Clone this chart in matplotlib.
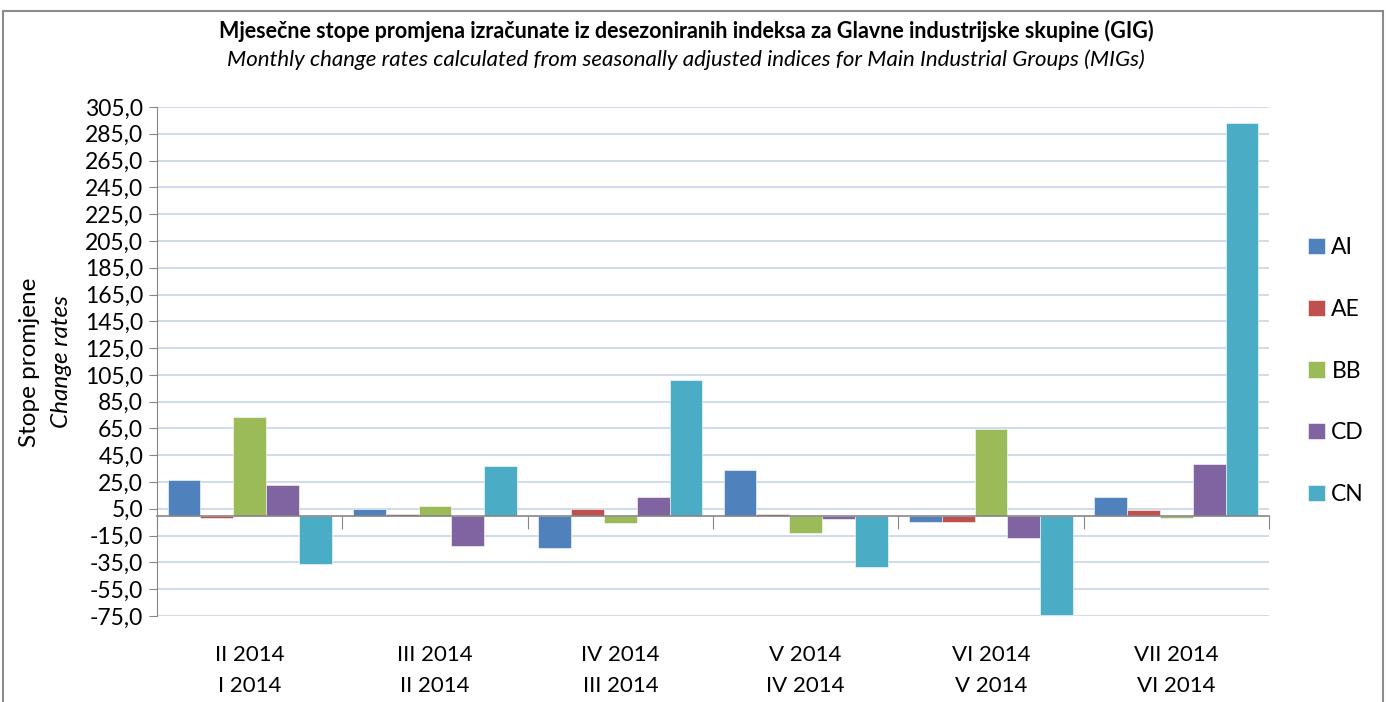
import matplotlib
matplotlib.use("Agg")
import matplotlib.pyplot as plt
import numpy as np
from matplotlib.patches import Rectangle

# data
periods = ["II 2014\nI 2014", "III 2014\nII 2014", "IV 2014\nIII 2014",
           "V 2014\nIV 2014", "VI 2014\nV 2014", "VII 2014\nVI 2014"]
series = ["AI", "AE", "BB", "CD", "CN"]
ai = [26.9, 5.0, -24.4, 33.9, -4.7, 14.0]
ae = [-1.7, 1.0, 5.0, 1.0, -4.7, 4.0]
bb = [73.4, 7.2, -5.5, -13.4, 64.7, -1.7]
cd = [22.7, -22.6, 14.0, -2.7, -16.6, 38.8]
cn = [-36.3, 36.8, 101.3, -38.3, -74.1, 293.0]
colors = ["#4f81bd", "#c0504d", "#9bbb59", "#8064a2", "#4bacc6"]
yticks = np.arange(-75, 306, 20)

plt.rcParams["font.family"] = ["Lato", "DejaVu Sans"]

fig = plt.figure(figsize=(13.86, 7.02), dpi=100)
ax = fig.add_axes([157 / 1386, 1 - 616 / 702, 1112 / 1386, 509 / 702])

x = np.arange(len(periods))
width = 0.177
for i, (name, vals, c) in enumerate(zip(series, [ai, ae, bb, cd, cn], colors)):
    ax.bar(x + (i - 2) * width, vals, width, color=c, label=name,
           edgecolor="white", linewidth=0.4, zorder=3)

ax.set_xlim(-0.5, len(periods) - 0.5)
ax.set_ylim(-75, 305)
ax.set_yticks(yticks)
ax.set_yticklabels([f"{v:.1f}".replace(".", ",") for v in yticks], fontsize=16.5)
ax.yaxis.grid(True, color="#c8d6e8", linewidth=1.2, zorder=0)
ax.tick_params(axis="y", length=6, color="#868686", pad=4)

for s in ["top", "right"]:
    ax.spines[s].set_visible(False)
ax.spines["left"].set_color("#868686")
ax.spines["bottom"].set_position(("data", 0))
ax.spines["bottom"].set_color("#868686")
ax.spines["bottom"].set_linewidth(1.2)
ax.spines["bottom"].set_zorder(4)
ax.set_xticks(np.arange(len(periods) + 1) - 0.5)
ax.set_xticklabels([])
ax.tick_params(axis="x", length=9, color="#868686", direction="out")

# category labels sit at the bottom of the plot, not on the zero line
sec = ax.secondary_xaxis("bottom")
sec.set_xticks(x, periods)
sec.tick_params(length=0, pad=21, labelsize=16)
sec.spines["bottom"].set_visible(False)
for lbl in sec.get_xticklabels():
    lbl.set_linespacing(1.65)

fig.text(30 / 1386, 1 - 362 / 702, "Stope promjene", rotation=90,
         ha="center", va="center", fontsize=17.5)
fig.text(62 / 1386, 1 - 362 / 702, "Change rates", rotation=90, style="italic",
         ha="center", va="center", fontsize=17.5)

fig.text(0.495, 1 - 31 / 702,
         "Mjesečne stope promjena izračunate iz desezoniranih indeksa za Glavne industrijske skupine (GIG)",
         ha="center", va="center", fontsize=15.5, fontweight="bold")
fig.text(0.495, 1 - 60 / 702,
         "Monthly change rates calculated from seasonally adjusted indices for Main Industrial Groups (MIGs)",
         ha="center", va="center", fontsize=16, style="italic")

fig.legend(loc="center left", bbox_to_anchor=(1297 / 1386, 1 - 371 / 702),
           frameon=False, fontsize=16.5, handlelength=0.7, handleheight=0.7,
           labelspacing=1.78, handletextpad=0.3, borderpad=0)

fig.patches.append(Rectangle((0.002, -0.01), 0.996, 1 - 11 / 702 + 0.01, transform=fig.transFigure,
                             fill=False, edgecolor="#8c8c8c", linewidth=1.5))

fig.savefig("out.png", dpi=100)
